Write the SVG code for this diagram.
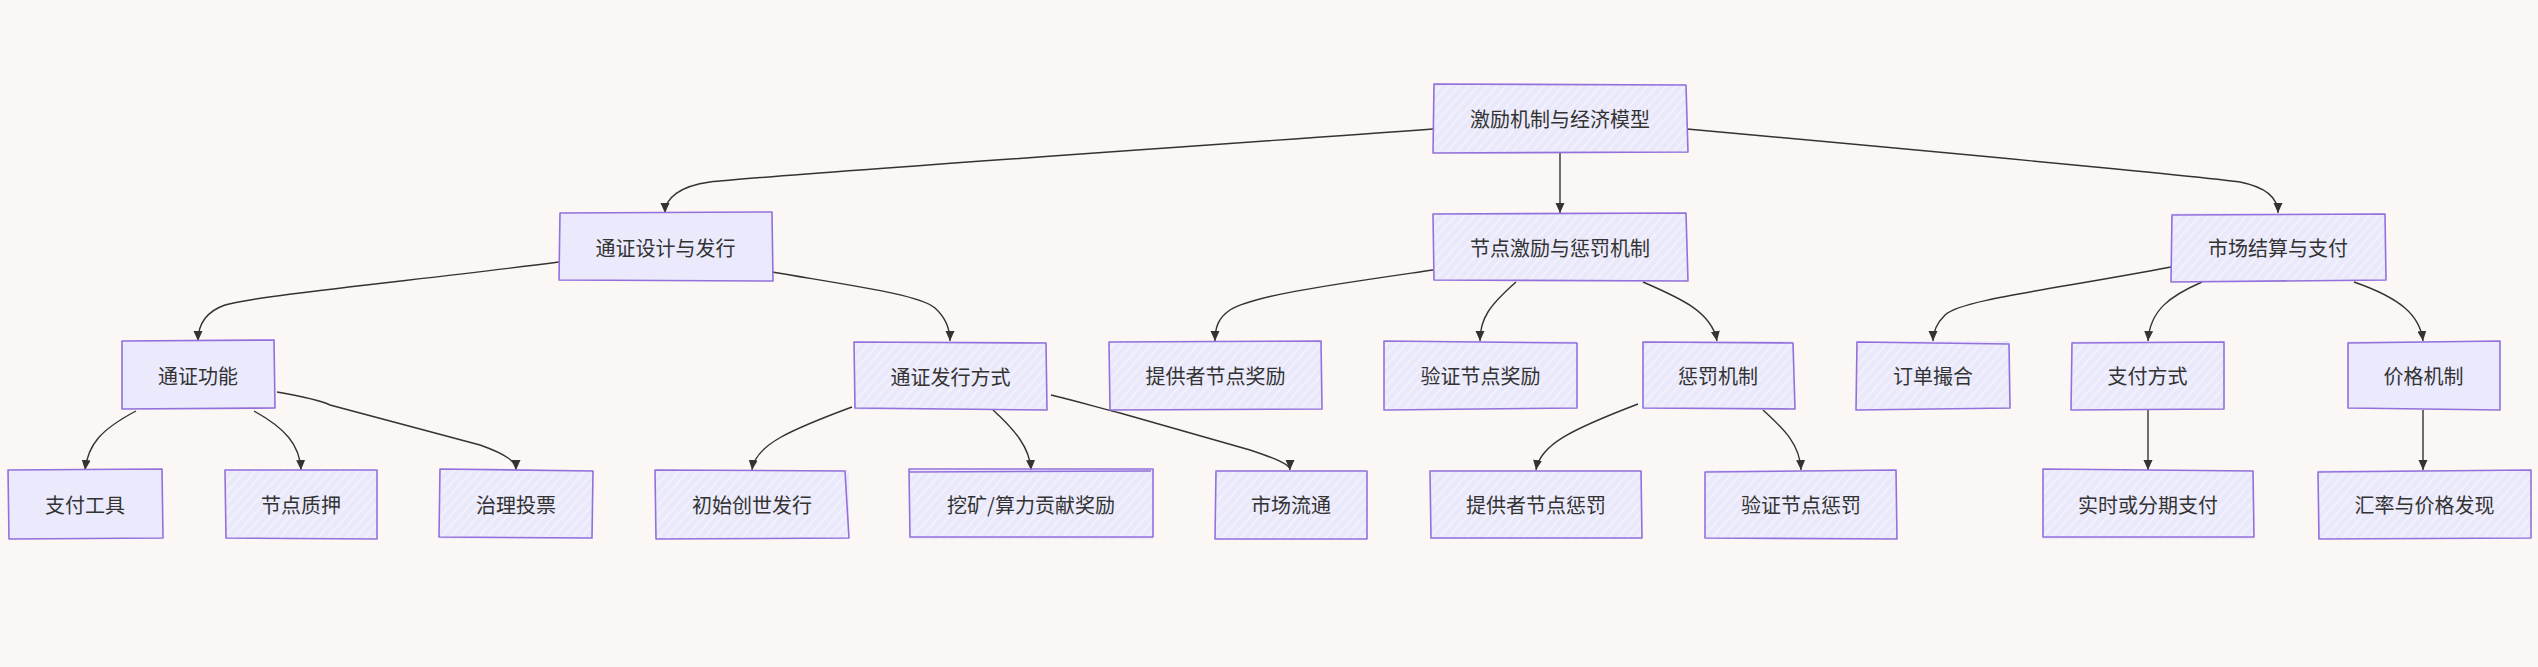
<svg xmlns="http://www.w3.org/2000/svg" width="2538" height="667" viewBox="0 0 2538 667">
<defs>
<pattern id="hach" width="7" height="7" patternUnits="userSpaceOnUse" patternTransform="rotate(42)">
<rect width="7" height="7" fill="#EAE9FB"/>
<line x1="1" y1="0" x2="1" y2="7" stroke="#F5F3FB" stroke-width="1.6"/>
</pattern>
<marker id="arr" markerWidth="11" markerHeight="10" refX="10" refY="5" orient="auto" markerUnits="userSpaceOnUse">
<path d="M0,0.5 L10,5 L0,9.5 z" fill="#333"/>
</marker>
<style>
.bx{fill:url(#hach);}
.bs{fill:#EAEAFC;}
.st{fill:none;stroke:#9370DB;stroke-width:1.6;stroke-linejoin:round;}
.t{font-family:"Noto Sans CJK SC","Noto Sans",sans-serif;font-size:20px;fill:#333;text-anchor:middle;dominant-baseline:central;}
.e{fill:none;stroke:#333;stroke-width:1.4;marker-end:url(#arr);}
</style>
</defs>
<rect width="2538" height="667" fill="#FAF7F5"/>

<g id="connectors">
<path class="e" d="M1433,129 C1100,153 760,176 710,182 C680,186 665,198 665,213"/>
<path class="e" d="M1560,153 L1560,213"/>
<path class="e" d="M1687,129 C1950,153 2200,176 2240,182 C2265,187 2278,198 2278,213"/>
<path class="e" d="M559,262 C420,280 260,295 225,305 C205,312 198,325 198,341"/>
<path class="e" d="M772,272 C860,287 920,295 935,308 C946,318 950,328 950,341"/>
<path class="e" d="M1433,270 C1330,285 1255,295 1230,310 C1218,318 1215,328 1215,341"/>
<path class="e" d="M1516,282 C1490,305 1480,318 1480,341"/>
<path class="e" d="M1643,282 C1680,298 1712,312 1717,341"/>
<path class="e" d="M2171,267 C2050,290 1960,300 1945,315 C1936,324 1933,332 1933,341"/>
<path class="e" d="M2202,282 C2170,296 2150,310 2148,341"/>
<path class="e" d="M2354,282 C2400,298 2420,315 2423,341"/>
<path class="e" d="M136,411 C100,430 88,445 85,470"/>
<path class="e" d="M254,411 C285,428 300,445 301,470"/>
<path class="e" d="M277,392 C300,396 320,400 330,405 L480,445 C508,455 516,462 516,470"/>
<path class="e" d="M852,407 C790,430 755,445 752,470"/>
<path class="e" d="M993,410 C1015,430 1030,448 1031,470"/>
<path class="e" d="M1051,395 C1080,402 1100,408 1120,413 L1250,450 C1280,460 1290,465 1290,470"/>
<path class="e" d="M1638,404 C1570,430 1540,445 1536,470"/>
<path class="e" d="M1763,410 C1785,430 1800,445 1801,470"/>
<path class="e" d="M2148,410 L2148,470"/>
<path class="e" d="M2423,410 L2423,470"/>
</g>

<g id="n-root"><rect class="bx" x="1433" y="84" width="254" height="69"/><path class="st" d="M1434,84 L1686,85 L1688,152 L1433,153 Z"/><text class="t" x="1560" y="118.5">激励机制与经济模型</text></g>

<g id="n-a"><rect class="bs" x="559" y="213" width="213" height="68"/><path class="st" d="M560,213 L772,212 L773,281 L559,280 Z"/><text class="t" x="665.5" y="247">通证设计与发行</text></g>
<g id="n-b"><rect class="bx" x="1433" y="213" width="254" height="68"/><path class="st" d="M1433,214 L1686,213 L1688,281 L1434,280 Z"/><text class="t" x="1560" y="247">节点激励与惩罚机制</text></g>
<g id="n-c"><rect class="bx" x="2171" y="213" width="214" height="68"/><path class="st" d="M2172,215 L2385,214 L2386,280 L2171,282 Z"/><text class="t" x="2278" y="247">市场结算与支付</text></g>

<g id="n-a1"><rect class="bs" x="121" y="341" width="154" height="68"/><path class="st" d="M122,341 L274,340 L275,408 L122,409 Z"/><text class="t" x="198" y="375">通证功能</text></g>
<g id="n-a2"><rect class="bx" x="854" y="342" width="193" height="68"/><path class="st" d="M854,342 L1046,343 L1047,410 L855,408 Z"/><text class="t" x="950.5" y="376">通证发行方式</text></g>
<g id="n-b1"><rect class="bx" x="1109" y="341" width="213" height="68"/><path class="st" d="M1109,342 L1321,341 L1322,409 L1110,410 Z"/><text class="t" x="1215.5" y="375">提供者节点奖励</text></g>
<g id="n-b2"><rect class="bx" x="1384" y="341" width="193" height="68"/><path class="st" d="M1384,341 L1577,343 L1577,408 L1384,410 Z"/><text class="t" x="1480.5" y="375">验证节点奖励</text></g>
<g id="n-b3"><rect class="bx" x="1642" y="341" width="152" height="68"/><path class="st" d="M1643,342 L1793,343 L1795,409 L1643,408 Z"/><text class="t" x="1718" y="375">惩罚机制</text></g>
<g id="n-c1"><rect class="bx" x="1856" y="341" width="154" height="68"/><path class="st" d="M1857,342 L2009,344 L2010,408 L1856,410 Z"/><text class="t" x="1933" y="375">订单撮合</text></g>
<g id="n-c2"><rect class="bx" x="2071" y="341" width="153" height="68"/><path class="st" d="M2072,343 L2224,342 L2224,409 L2071,410 Z"/><text class="t" x="2147.5" y="375">支付方式</text></g>
<g id="n-c3"><rect class="bs" x="2347" y="341" width="153" height="68"/><path class="st" d="M2348,343 L2500,341 L2500,410 L2348,408 Z"/><text class="t" x="2423.5" y="375">价格机制</text></g>

<g id="n-a11"><rect class="bs" x="8" y="470" width="154" height="69"/><path class="st" d="M8,470 L162,469 L163,538 L9,539 Z"/><text class="t" x="85" y="504.5">支付工具</text></g>
<g id="n-a12"><rect class="bx" x="225" y="470" width="152" height="69"/><path class="st" d="M225,470 L377,470 L377,539 L226,538 Z"/><text class="t" x="301" y="504.5">节点质押</text></g>
<g id="n-a13"><rect class="bx" x="439" y="470" width="154" height="69"/><path class="st" d="M440,469 L593,471 L592,538 L439,537 Z"/><text class="t" x="516" y="504.5">治理投票</text></g>
<g id="n-a21"><rect class="bx" x="655" y="470" width="194" height="69"/><path class="st" d="M655,470 L845,471 L849,538 L656,539 Z"/><text class="t" x="752" y="504.5">初始创世发行</text></g>
<g id="n-a22"><rect class="bx" x="909" y="470" width="244" height="69"/><path class="st" d="M909,469 L1153,469 L1153,537 L910,537 Z"/><path class="st" d="M910,472 L1151,471" stroke-width="1"/><text class="t" x="1031" y="504.5">挖矿/算力贡献奖励</text></g>
<g id="n-a23"><rect class="bx" x="1215" y="470" width="152" height="69"/><path class="st" d="M1216,471 L1367,471 L1367,539 L1215,539 Z"/><text class="t" x="1291" y="504.5">市场流通</text></g>
<g id="n-b31"><rect class="bx" x="1430" y="470" width="212" height="69"/><path class="st" d="M1430,471 L1641,471 L1642,538 L1431,538 Z"/><text class="t" x="1536" y="504.5">提供者节点惩罚</text></g>
<g id="n-b32"><rect class="bx" x="1705" y="470" width="192" height="69"/><path class="st" d="M1705,472 L1896,470 L1897,539 L1705,538 Z"/><text class="t" x="1801" y="504.5">验证节点惩罚</text></g>
<g id="n-c21"><rect class="bx" x="2042" y="470" width="212" height="69"/><path class="st" d="M2043,469 L2253,471 L2254,537 L2043,537 Z"/><text class="t" x="2148" y="504.5">实时或分期支付</text></g>
<g id="n-c31"><rect class="bx" x="2318" y="470" width="213" height="69"/><path class="st" d="M2318,472 L2531,470 L2531,538 L2319,539 Z"/><text class="t" x="2424.5" y="504.5">汇率与价格发现</text></g>
</svg>
